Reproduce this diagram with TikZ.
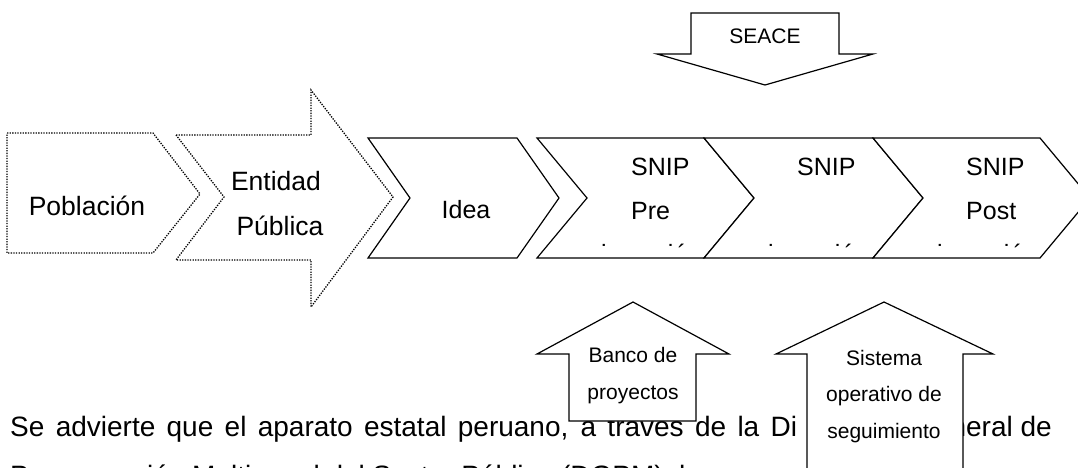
\documentclass[tikz,border=0pt]{standalone}
\usepackage{fontspec}
\setmainfont{Liberation Sans}
\usepackage{tikz}
\usetikzlibrary{positioning}

\begin{document}
\begin{tikzpicture}[x=1pt, y=-1pt, line join=miter,
        box/.style={draw=black, line width=1.2pt, fill=white},
        dotbox/.style={draw=black, line width=1.3pt, dash pattern=on 1.3pt off 1.3pt},
        big/.style={inner sep=0pt, font=\fontsize{25}{30}\selectfont},
        bigger/.style={inner sep=0pt, font=\fontsize{26.5}{32}\selectfont},
        body/.style={inner sep=0pt, font=\fontsize{28}{34}\selectfont},
        small/.style={inner sep=0pt, font=\fontsize{21}{25}\selectfont}]
            \useasboundingbox (0,0) rectangle (1078,468);
            % parrafo detras de las flechas
            \node[body, anchor=base west] (linea1) at (10,436) {\makebox[787pt][s]{Se advierte que el aparato estatal peruano, a traves de la Di}};
            \node[body, anchor=base east] (linea1b) at (1052,436) {rección General de};
            \node[body, anchor=base west] (linea2) at (10,485) {Programación Multianual del Sector Público (DGPM), ha};
            % poblacion y entidad
            \draw[dotbox] (7,133) -- (153,133) -- (200,194) -- (153,253) -- (7,253) -- cycle;
            \draw[dotbox] (176,135) -- (311,135) -- (311,90) -- (393,197) -- (311,307) -- (311,260) -- (176,260) -- (224,197) -- cycle;
            \node[bigger, anchor=base] (pob) at (87,215) {Población};
            \node[bigger, anchor=base] (ent) at (276,190) {Entidad};
            \node[bigger, anchor=base] (pub) at (280,235) {Pública};
            % cadena de fases
            \foreach \l/\r/\d in {368/517/42, 537/704/50, 704/873/50, 873/1040/50}
                \draw[box] (\l,138) -- (\r,138) -- (\r+\d,198) -- (\r,258) -- (\l,258) -- (\l+\d,198) -- cycle;
            \node[big, anchor=base] (idea) at (466,218) {Idea};
            \foreach \x/\t/\n in {631/Pre/pre, 797/{}/ejec, 966/Post/post} {
                \node[big, anchor=base west] (snip\n) at (\x,175) {SNIP};
                \node[big, anchor=base west] (fase\n) at (\x,219) {\t};
            }
            \begin{scope}
                \clip (537,138) rectangle (1078,247.5);
                \foreach \x/\n in {601/pre, 768/ejec, 937/post}
                    \node[big, anchor=base west] (inv\n) at (\x,262) {inversión};
            \end{scope}
            % flechas de sistemas
            \draw[box] (691,13) -- (839,13) -- (839,54) -- (873,54) -- (765,85) -- (657,54) -- (691,54) -- cycle;
            \node[small] (seace) at (765,36) {SEACE};
            \draw[box] (633,302) -- (729,354) -- (696,354) -- (696,421) -- (569,421) -- (569,354) -- (537,354) -- cycle;
            \node[small, anchor=base] (banco) at (633,362) {Banco de};
            \node[small, anchor=base] (proy) at (633,399) {proyectos};
            \draw[box] (884,302) -- (993,354) -- (963,354) -- (963,480) -- (807,480) -- (807,354) -- (776,354) -- cycle;
            \node[small, anchor=base] (sist) at (884,365) {Sistema};
            \node[small, anchor=base] (oper) at (884,401) {operativo de};
            \node[small, anchor=base] (segu) at (884,438) {seguimiento};
        \end{tikzpicture}
\end{document}
